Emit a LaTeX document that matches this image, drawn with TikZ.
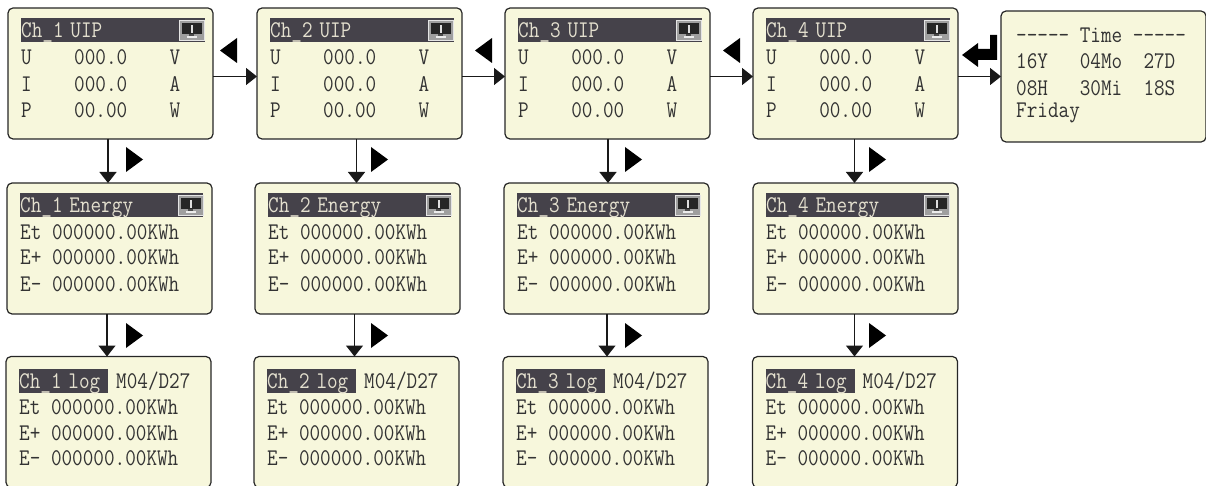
\documentclass[tikz,border=0pt]{standalone}
\usetikzlibrary{arrows.meta}
\definecolor{lcdpaper}{HTML}{F7F7DC}
\definecolor{lcdbar}{HTML}{45424A}
\definecolor{lcdink}{HTML}{333333}
\definecolor{lcdlight}{HTML}{E4E0CF}
\newcommand{\lcdfont}{\fontsize{20.6}{24}\selectfont\ttfamily}
\tikzset{
    panel/.style={draw=black!85,fill=lcdpaper,line width=1.2pt,rounded corners=5pt,minimum width=205pt,minimum height=131pt,inner sep=0pt,outer sep=0pt},
    lcdtext/.style={anchor=west,inner sep=0pt,font=\lcdfont,text=lcdink,yscale=1.16,transform shape},
    lcdtitle/.style={lcdtext,fill=lcdbar,text=lcdlight,align=left,text height=16.5pt,text depth=3.5pt},
    flow/.style={-{Triangle[length=11pt,width=17pt]},line width=1.4pt,black!90},
    cue/.style={fill=black},
    monitor/.pic={
        \fill[gray!75] (0,0) rectangle (26,21);
        \draw[white!80!gray,line width=.8pt] (0.5,0.5) rectangle (25.5,20.5);
        \fill[black!85] (3,3) rectangle (23,14);
        \fill[white!75!gray] (12,5) rectangle (14,13);
        \fill[white!85!gray] (8,16) rectangle (18,18);
        \fill[black!70] (10.5,14) rectangle (15.5,16);
    }
}
\begin{document}
\begin{tikzpicture}[x=1pt,y=-1pt]
    \useasboundingbox (0,0) rectangle (1206,486);
    % one column per channel
    \foreach \n/\xa/\xb/\xc/\sa/\ca in {1/8/7/6/-2.5/126,2/257/255/254/-3/371,3/505/504/503/0.5/625,4/753/753/752.5/-1/869} {
        \node[panel] (uip\n) at (\xa+102.5,73.5) {};
        \node[lcdtitle,text width=184pt] (uiptitle\n) at (\xa+13,30) {Ch\_\n{} UIP};
        \pic at (\xa+170.5,20) {monitor};
        \node[lcdtext] (uipu\n) at (\xa+13,57) {U~~~~000.0~~~~V};
        \node[lcdtext] (uipi\n) at (\xa+13,84) {I~~~~000.0~~~~A};
        \node[lcdtext] (uipp\n) at (\xa+13,110) {P~~~~00.00~~~~W};
        \node[panel] (energy\n) at (\xb+102.5,248.5) {};
        \node[lcdtitle,text width=183pt] (energytitle\n) at (\xb+13,205) {Ch\_\n{} Energy};
        \pic at (\xb+170.5,195) {monitor};
        \node[lcdtext] (energyt\n) at (\xb+13,232) {Et 000000.00KWh};
        \node[lcdtext] (energyp\n) at (\xb+13,257) {E+ 000000.00KWh};
        \node[lcdtext] (energym\n) at (\xb+13,284) {E- 000000.00KWh};
        \node[panel] (log\n) at (\xc+102.5,422) {};
        \node[lcdtitle,text width=89pt] (logtitle\n) at (\xc+13,381) {Ch\_\n{} log};
        \node[lcdtext] (logdate\n) at (\xc+110,381) {M04/D27};
        \node[lcdtext] (logt\n) at (\xc+13,407) {Et 000000.00KWh};
        \node[lcdtext] (logp\n) at (\xc+13,433) {E+ 000000.00KWh};
        \node[lcdtext] (logm\n) at (\xc+13,458) {E- 000000.00KWh};
        \draw[flow] ([xshift=\sa pt]uip\n.south) -- ([xshift=\sa pt]uip\n.south |- energy\n.north);
        \draw[flow] ([xshift=\sa pt]energy\n.south) -- ([xshift=\sa pt]energy\n.south |- log\n.north);
        \fill[cue] (\ca,147) -- ++(17,12.5) -- ++(-17,12.5) -- cycle;
        \fill[cue] (\ca,323) -- ++(17,12.5) -- ++(-17,12.5) -- cycle;
    }
    % clock
    \node[panel] (time) at (1103.5,76.5) {};
    \node[lcdtext] (timehead) at (1016,35) {{-}{-}{-}{-}{-} Time {-}{-}{-}{-}{-}};
    \node[lcdtext] (timedate) at (1016,61) {16Y~~~04Mo~~27D};
    \node[lcdtext] (timehour) at (1016,88) {08H~~~30Mi~~18S};
    \node[lcdtext] (timeday) at (1016,113) {Friday};
    % across
    \foreach \a/\b in {uip1/uip2,uip2/uip3,uip3/uip4,uip4/time}
        \draw[flow] ([yshift=-3pt]\a.east) -- ([yshift=-3pt]\a.east -| \b.west);
    \foreach \t in {237,492,740}
        \fill[cue] (\t,38) -- ++(-17,12.5) -- ++(17,12.5) -- cycle;
    \fill[cue] (962,55) -- (978,43) -- (978,49) -- (990,49) -- (990,35) -- (997,35) -- (997,60) -- (978,60) -- (978,67) -- cycle;
\end{tikzpicture}
\end{document}
